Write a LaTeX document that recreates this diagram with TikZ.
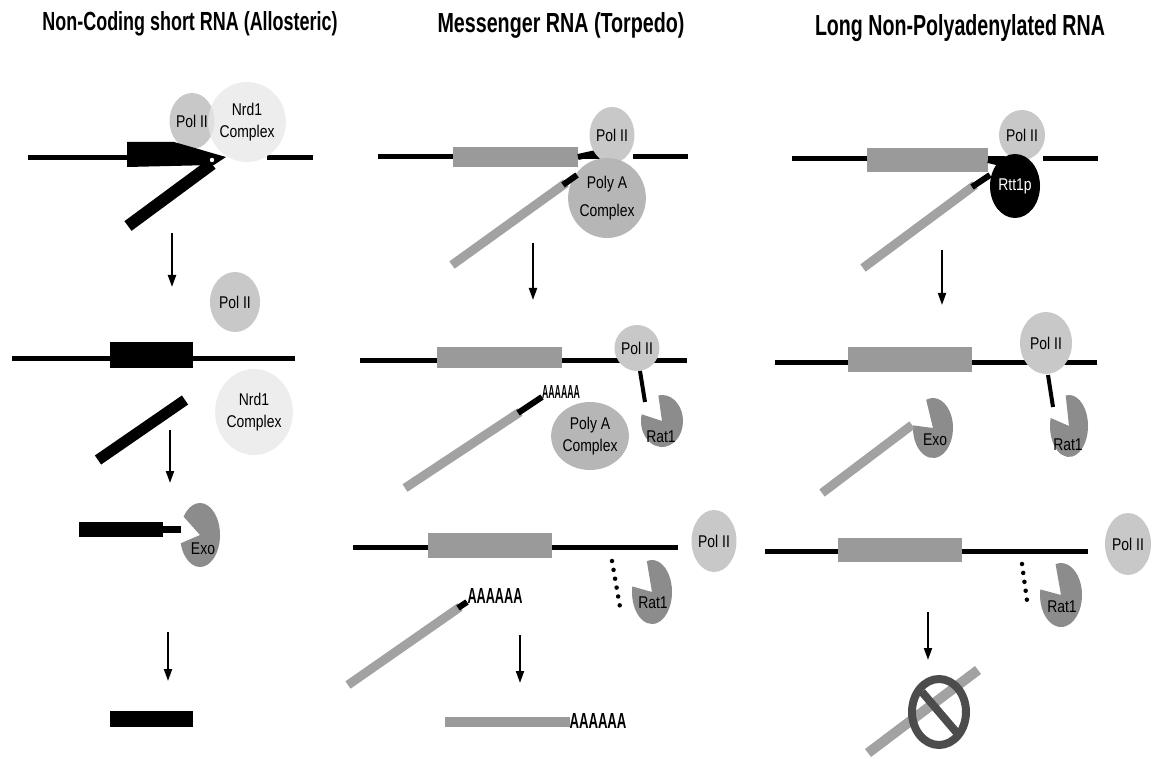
\documentclass[tikz,border=0pt]{standalone}
\usepackage{fontspec}
\setmainfont{Liberation Sans}
\newfontfamily\lblfont[FakeStretch=0.82]{Liberation Sans}
\usetikzlibrary{arrows.meta,shapes.geometric}

\definecolor{genegray}{HTML}{9A9A9A}
\definecolor{strandgray}{HTML}{A2A2A2}
\definecolor{poliigray}{HTML}{C8C8C8}
\definecolor{nrdgray}{HTML}{E8E8E8}
\definecolor{polyagray}{HTML}{B6B6B6}
\definecolor{pacgray}{HTML}{8C8C8C}
\definecolor{ringgray}{HTML}{4C4C4C}

% exonuclease drawn as a "pac-man": centre, x radius, y radius,
% mouth from visual angle #4 to visual angle #5 (page y points down)
\newcommand{\pacmanshape}[5]{%
  \fill[pacgray] (#1) -- ++({-#4}:#2 and #3)
    arc[start angle={-#4}, end angle={360-#5}, x radius=#2, y radius=#3] -- cycle;}

% poly(A) tail text squeezed to a given width and height
\newcommand{\polyAtail}[2]{\resizebox{#1}{#2}{\bfseries AAAAAA}}

\begin{document}
\begin{tikzpicture}[x=1pt,y=-1pt,
  dna/.style={line width=5pt},
  rnablack/.style={line width=11pt},
  rnagray/.style={line width=9pt, draw=strandgray},
  tail/.style={line width=6pt},
  tether/.style={line width=4pt},
  dotline/.style={line width=4.5pt, line cap=round, dash pattern=on 0pt off 9pt},
  flow/.style={line width=2pt, -{Triangle[width=8pt,length=12pt]}},
  lbl/.style={font=\lblfont\fontsize{17}{22}\selectfont, text=black},
  polii/.style={ellipse, fill=poliigray, inner sep=0pt, lbl},
  nrd/.style={ellipse, fill=nrdgray, fill opacity=0.75, text opacity=1, inner sep=0pt, align=center, lbl},
  polya/.style={ellipse, fill=polyagray, inner sep=0pt, align=center, lbl},
  pactext/.style={inner sep=0pt, lbl},
  polyatext/.style={inner sep=0pt},
  title/.style={anchor=base, inner sep=0pt}
]
\useasboundingbox[fill=white] (0,0) rectangle (1154,759);

% ---------- titles ----------
\node[title] (ttlA) at (190,31) {\resizebox{295pt}{19pt}{\bfseries Non-Coding short RNA (Allosteric)}};
\node[title] (ttlB) at (561,33) {\resizebox{247pt}{20pt}{\bfseries Messenger RNA (Torpedo)}};
\node[title] (ttlC) at (960,36) {\resizebox{290pt}{21pt}{\bfseries Long Non-Polyadenylated RNA}};

% =========== non-coding short RNA ===========
% step 1
\draw[dna] (28,158) -- (200,158);
\draw[dna] (267,158) -- (313,158);
\node[polii, minimum width=42pt, minimum height=56pt] (polA) at (192,121) {Pol II};
\node[nrd, minimum width=60pt, minimum height=80pt] (nrdA) at (247,122) {Nrd1\\Complex};
\fill (127,142) -- (174,142) .. controls (192,147) and (208,152) .. (226,157) -- (214,165) -- (127,167) -- cycle;
\draw[line width=12pt] (128,226) -- (212,164);
\fill[white] (212,160) circle[radius=2.2pt];
\coordinate (arLa) at (172,233); \coordinate (arLb) at (172,287);
\draw[flow] (arLa) -- (arLb);

% step 2
\draw[dna] (12,358) -- (295,358);
\fill (110,342) rectangle (193,368);
\node[polii, minimum width=50pt, minimum height=60pt] (polB) at (235,302) {Pol II};
\node[nrd, minimum width=64pt, minimum height=86pt] (nrdB) at (254,412) {Nrd1\\Complex};
\draw[rnablack] (98,460) -- (185,400);
\coordinate (arLc) at (170,430); \coordinate (arLd) at (170,483);
\draw[flow] (arLc) -- (arLd);

% step 3
\fill (79,522) rectangle (163,537);
\fill (163,526) rectangle (181,533);
\pacmanshape{200,535}{20}{32}{145}{195}
\node[pactext] (exoA) at (203,549) {Exo};
\coordinate (arLe) at (168,632); \coordinate (arLf) at (168,681);
\draw[flow] (arLe) -- (arLf);

% product
\fill (110,711) rectangle (193,727);

% =========== messenger RNA ===========
% step 1
\draw[dna] (378,157) -- (600,157);
\draw[dna] (633,157) -- (688,157);
\fill[genegray] (453,147) rectangle (578,167);
\draw[tail] (578,157) -- (596,153);
\node[polii, minimum width=44pt, minimum height=56pt] (polC) at (612,135) {Pol II};
\node[polya, minimum width=64pt, minimum height=80pt] (polyaA) at (607,198) {Poly A\\[6pt]Complex};
\draw[rnagray] (452,265) -- (566,183);
\draw[tail] (563,185) -- (577,175);
\coordinate (arMa) at (533,243); \coordinate (arMb) at (533,300);
\draw[flow] (arMa) -- (arMb);

% step 2
\draw[dna] (360,360) -- (687,360);
\fill[genegray] (437,347) rectangle (562,368);
\node[polii, minimum width=40pt, minimum height=46pt] (polD) at (637,348) {Pol II};
\node[polya, minimum width=64pt, minimum height=68pt] (polyaB) at (590,436) {Poly A\\Complex};
\coordinate (tetMa) at (640,371); \coordinate (tetMb) at (645,402);
\draw[tether] (tetMa) -- (tetMb);
\pacmanshape{662,421}{21}{26}{100}{165}
\node[pactext] (ratA) at (661,437) {Rat1};
\draw[rnagray] (405,488) -- (520,412);
\draw[tail] (518,413) -- (542,397);
\node[polyatext] (tailA) at (561,392) {\polyAtail{38pt}{13pt}};

% step 3
\draw[dna] (353,547) -- (678,547);
\fill[genegray] (428,533) rectangle (552,558);
\node[polii, minimum width=44pt, minimum height=62pt] (polE) at (714,541) {Pol II};
\coordinate (dotMa) at (612,561); \coordinate (dotMb) at (620,607);
\draw[dotline] (dotMa) -- (dotMb);
\pacmanshape{652,592}{20}{32}{105}{170}
\node[pactext] (ratB) at (653,603) {Rat1};
\draw[rnagray] (348,685) -- (460,607);
\draw[tail] (458,608) -- (467,602);
\node[polyatext] (tailB) at (495,596) {\polyAtail{55pt}{15pt}};
\coordinate (arMc) at (520,635); \coordinate (arMd) at (520,683);
\draw[flow] (arMc) -- (arMd);

% product
\fill[genegray] (445,717) rectangle (570,727);
\node[polyatext] (tailC) at (598,721) {\polyAtail{57pt}{15pt}};

% =========== long non-polyadenylated RNA ===========
% step 1
\draw[dna] (792,159) -- (1005,159);
\draw[dna] (1043,159) -- (1098,159);
\fill[genegray] (867,148) rectangle (988,172);
\node[polii, minimum width=46pt, minimum height=50pt] (polF) at (1022,135) {Pol II};
\draw[tail] (988,160) -- (1005,164);
\node[ellipse, fill=black, inner sep=0pt, minimum width=50pt, minimum height=64pt, lbl, text=white] (rtt) at (1015,186) {Rtt1p};
\draw[rnagray] (863,268) -- (975,185);
\draw[tail] (972,187) -- (990,175);
\coordinate (arRa) at (942,250); \coordinate (arRb) at (942,305);
\draw[flow] (arRa) -- (arRb);

% step 2
\draw[dna] (775,362) -- (1097,362);
\fill[genegray] (848,347) rectangle (972,372);
\node[polii, minimum width=52pt, minimum height=62pt] (polG) at (1046,343) {Pol II};
\coordinate (tetRa) at (1048,375); \coordinate (tetRb) at (1053,407);
\draw[tether] (tetRa) -- (tetRb);
\pacmanshape{1069,426}{19}{31}{100}{165}
\node[pactext] (ratC) at (1068,445) {Rat1};
\pacmanshape{933,428}{20}{30}{110}{175}
\node[pactext] (exoB) at (935,440) {Exo};
\draw[rnagray] (822,493) -- (912,425);

% step 3
\draw[dna] (765,551) -- (1088,551);
\fill[genegray] (838,538) rectangle (962,562);
\node[polii, minimum width=46pt, minimum height=62pt] (polH) at (1128,544) {Pol II};
\coordinate (dotRa) at (1022,564); \coordinate (dotRb) at (1028,608);
\draw[dotline] (dotRa) -- (dotRb);
\pacmanshape{1061,595}{21}{32}{105}{170}
\node[pactext] (ratD) at (1062,607) {Rat1};
\coordinate (arRc) at (928,612); \coordinate (arRd) at (928,660);
\draw[flow] (arRc) -- (arRd);

% degraded product: transcript under a "no" sign
\draw[line width=10pt, strandgray] (868,753) -- (978,670);
\draw[line width=8pt, ringgray] (939,712) ellipse[x radius=27pt, y radius=33pt];
\draw[line width=8pt, ringgray] (922,692) -- (957,733);

\end{tikzpicture}
\end{document}
